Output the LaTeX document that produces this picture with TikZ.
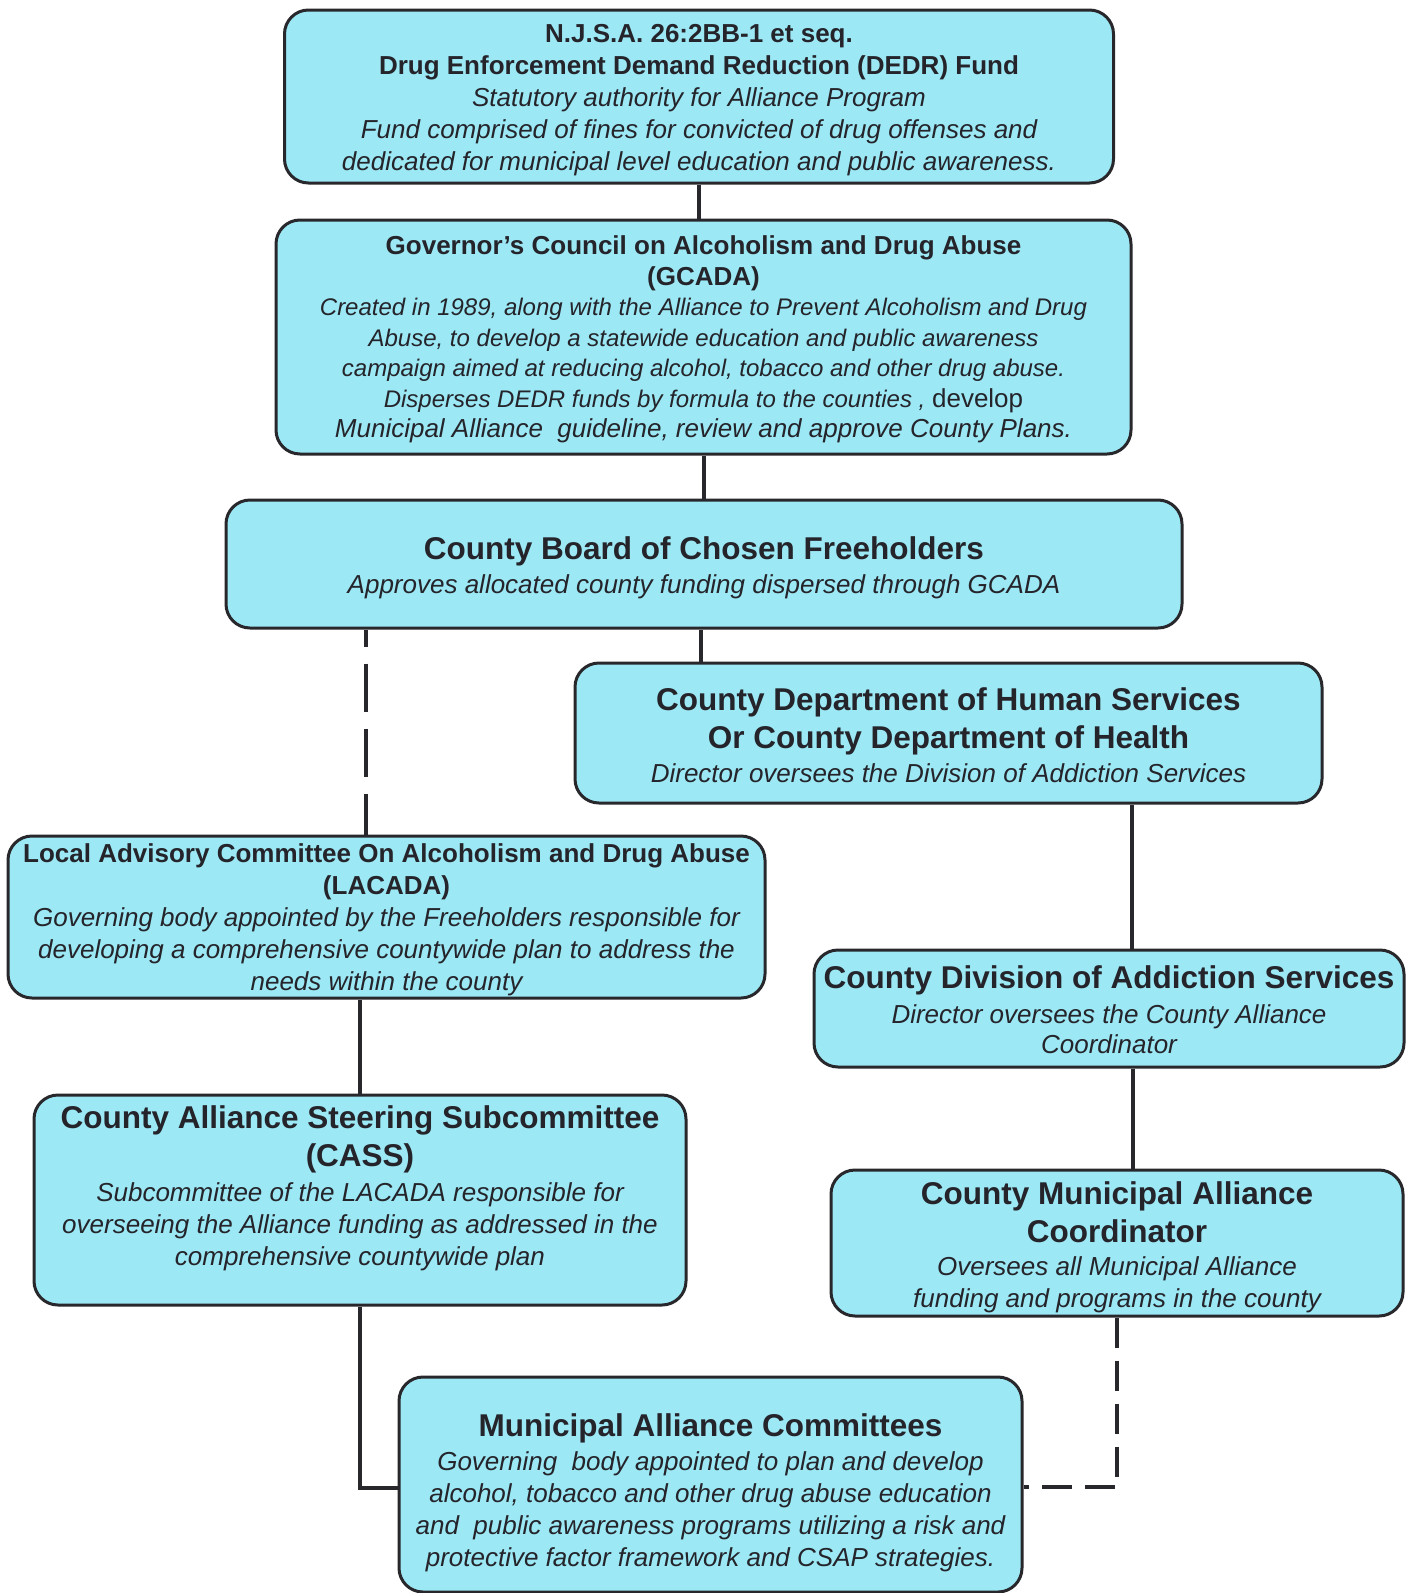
\documentclass[tikz,border=0pt]{standalone}
\usepackage{fontspec}
\setmainfont{Liberation Sans}
\definecolor{boxfill}{RGB}{156,232,245}
\definecolor{edgecol}{RGB}{40,40,44}
\definecolor{inkcol}{RGB}{36,36,42}
\newcommand\wsp{\spaceskip=0.278em\relax\xspaceskip=0.278em\relax}
\newcommand\hdS{\fontsize{26}{32}\selectfont\bfseries\wsp}
\newcommand\hdL{\fontsize{31.5}{38}\selectfont\bfseries\wsp}
\newcommand\bdI{\fontsize{26}{32}\selectfont\itshape\wsp}
\newcommand\bdS{\fontsize{24}{30.5}\selectfont\itshape\wsp}
\newcommand\lowr[1]{\vspace{-#1pt}}
\tikzset{
  orgbox/.style={draw=edgecol, line width=3pt, fill=boxfill, rounded corners=24pt,
    align=center, inner sep=0pt, text=inkcol},
  conn/.style={line width=4pt, draw=edgecol},
  dashleft/.style={conn, dash pattern=on 48pt off 17pt, dash phase=31pt},
  dashright/.style={line width=3.5pt, draw=edgecol, dash pattern=on 30pt off 13pt}
}
\begin{document}
\begin{tikzpicture}[x=1pt,y=-1pt]
\useasboundingbox (0,0) rectangle (1409,1593);
\fill[white] (0,0) rectangle (1409,1593);

\node[orgbox, minimum width=829pt, minimum height=173pt, text width=815pt] (dedr) at (699,96.5)
 {{\hdS N.J.S.A. 26:2BB-1 et seq.\\Drug Enforcement Demand Reduction (DEDR) Fund\par}
  {\bdI Statutory authority for Alliance Program\\
   Fund comprised of fines for convicted of drug offenses and\\
   dedicated for municipal level education and public awareness.\par}\lowr{7}};

\node[orgbox, minimum width=855pt, minimum height=234pt, text width=845pt] (gcada) at (703.5,337)
 {{\fontsize{26}{30.5}\selectfont\bfseries\wsp Governor’s Council on Alcoholism and Drug Abuse\\(GCADA)\par}
  {\bdS Created in 1989, along with the Alliance to Prevent Alcoholism\ and Drug\\
   Abuse, to develop a statewide education and public awareness\\
   campaign aimed at reducing alcohol, tobacco and other drug abuse.\\
   Disperses DEDR funds by formula to the counties , {\upshape\fontsize{26}{30.5}\selectfont\wsp develop}\\
   {\fontsize{26}{30.5}\selectfont\wsp Municipal Alliance\ \ guideline, review and approve County Plans.}\par}\lowr{5}};

\node[orgbox, minimum width=956pt, minimum height=128pt, text width=940pt] (board) at (704,564)
 {{\hdL County Board of Chosen Freeholders\par}\vspace{1.5pt}
  {\bdI Approves allocated county funding dispersed through GCADA\par}\lowr{8}};

\node[orgbox, minimum width=747pt, minimum height=140pt, text width=740pt] (dhs) at (948.5,733)
 {{\hdL County Department of Human Services\\Or County Department of Health\par}\vspace{1.5pt}
  {\bdI Director oversees the Division of Addiction Services\par}\lowr{4}};

\node[orgbox, minimum width=757pt, minimum height=162pt, text width=755pt] (lacada) at (386.5,917)
 {{\hdS Local Advisory Committee On Alcoholism and Drug Abuse\\(LACADA)\par}
  {\bdI Governing body appointed by the Freeholders responsible for\\
   developing a comprehensive countywide plan to address the\\
   needs within the county\par}\lowr{6}};

\node[orgbox, minimum width=590pt, minimum height=117pt, text width=588pt] (cdas) at (1109,1008.5)
 {{\hdL County Division of Addiction Services\par}\vspace{4pt}
  {\fontsize{26}{30.5}\selectfont\itshape\wsp Director oversees the County Alliance\\ Coordinator\par}\lowr{3}};

\node[orgbox, minimum width=652pt, minimum height=210pt, text width=645pt] (cass) at (360,1200)
 {{\hdL County Alliance Steering Subcommittee\\(CASS)\par}\vspace{2.5pt}
  {\bdI Subcommittee of the LACADA responsible for\\
   overseeing the Alliance funding as addressed in the\\
   comprehensive countywide plan\par}\vspace{23pt}};

\node[orgbox, minimum width=572pt, minimum height=146pt, text width=565pt] (cmac) at (1117,1243)
 {{\hdL County Municipal Alliance\\Coordinator\par}\vspace{1pt}
  {\bdI Oversees all Municipal Alliance\\ funding and programs in the county\par}\lowr{8}};

\node[orgbox, minimum width=623pt, minimum height=215pt, text width=618pt] (mac) at (710.5,1484.5)
 {{\hdL Municipal Alliance Committees\par}\vspace{2pt}
  {\bdI Governing\ \ body appointed to plan and develop\\
   alcohol, tobacco and other drug abuse education\\
   and\ \ public awareness programs utilizing a risk and\\
   protective factor framework and CSAP strategies.\par}\lowr{16}};

% connectors
\draw[conn] (dedr.south) -- (dedr.south |- gcada.north);
\draw[conn] (gcada.south) -- (gcada.south |- board.north);
\draw[conn] ([xshift=-3pt]board.south) -- ([xshift=-3pt]board.south |- dhs.north);
\draw[dashleft] ([xshift=-20.5pt]lacada.north |- board.south) -- ([xshift=-20.5pt]lacada.north);
\draw[conn] ([xshift=23pt]cdas.north |- dhs.south) -- ([xshift=23pt]cdas.north);
\draw[conn] ([xshift=24pt]cdas.south) -- ([xshift=24pt]cdas.south |- cmac.north);
\draw[conn] (cass.north |- lacada.south) -- (cass.north);
\draw[conn] (cass.south) |- ([yshift=-3.5pt]mac.west);
\draw[dashright] (cmac.south) |- ([yshift=-2.5pt]mac.east);
\end{tikzpicture}
\end{document}
